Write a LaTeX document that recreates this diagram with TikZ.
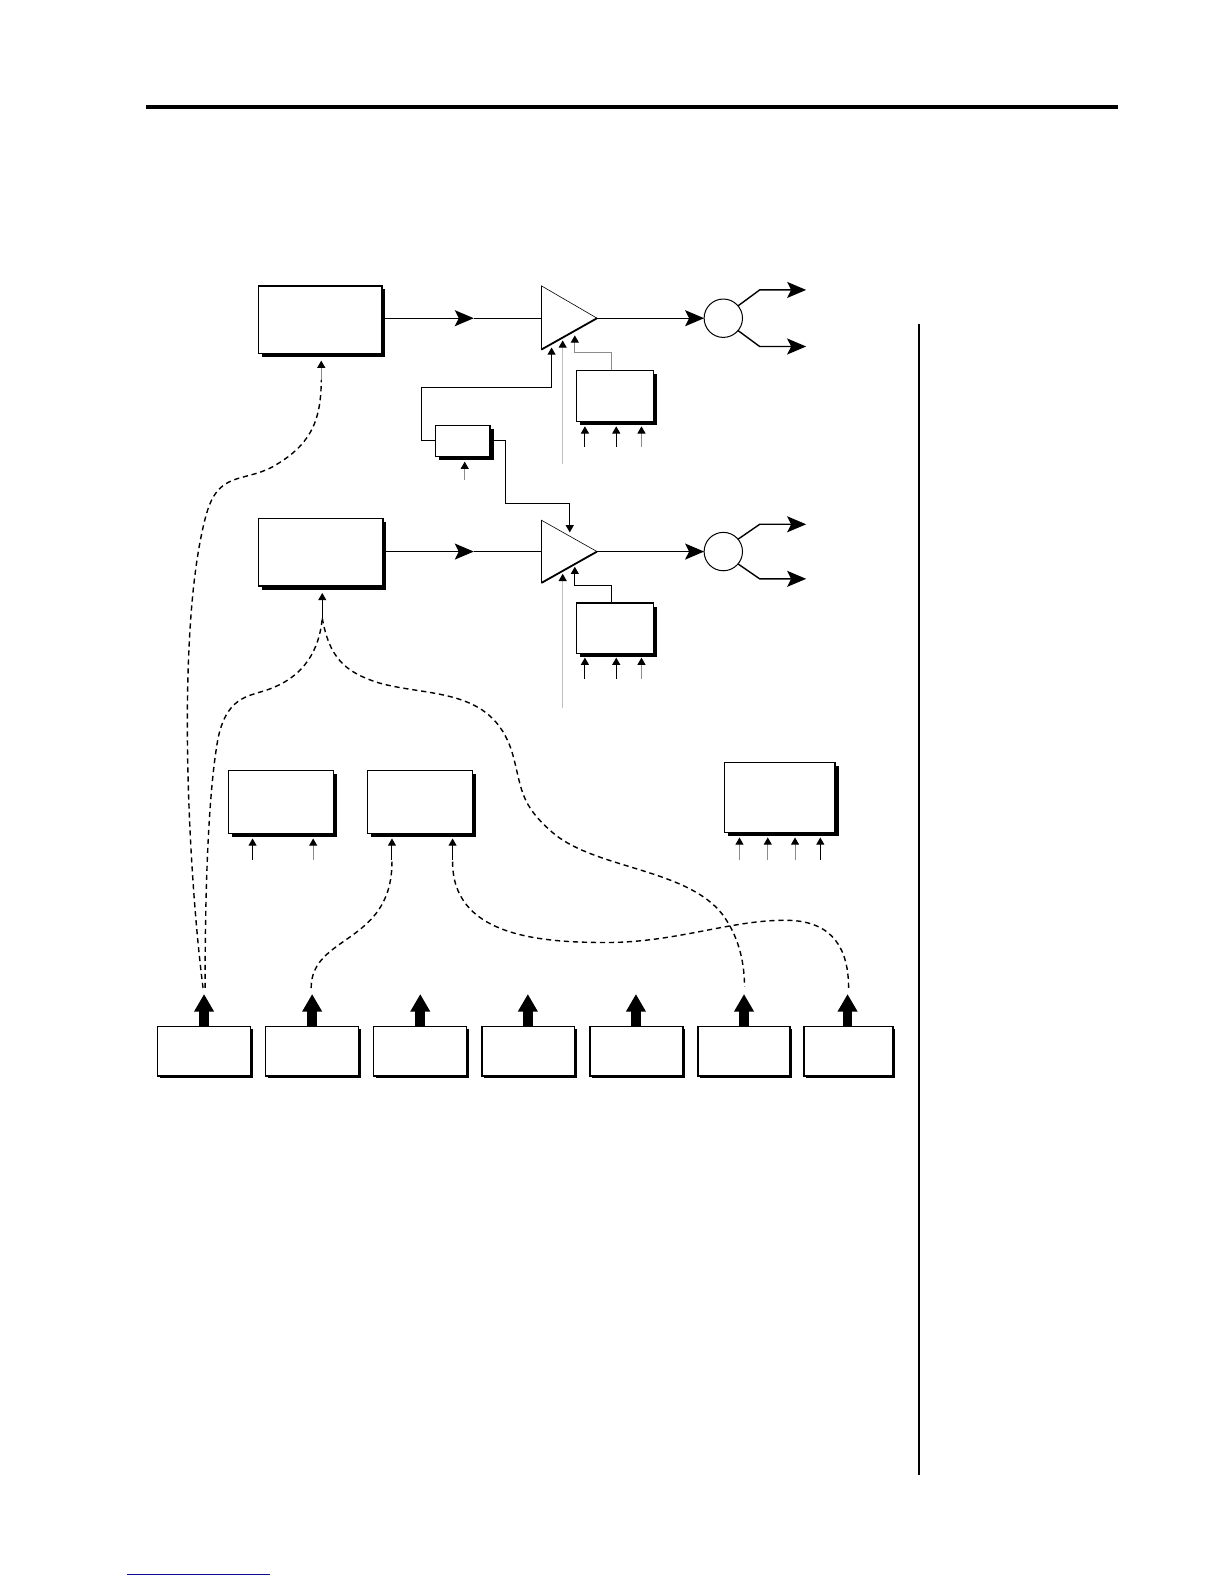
\documentclass[tikz,border=0pt]{standalone}
\usetikzlibrary{arrows.meta, calc, positioning, shadows}
\def\unitpx{0.50495pt}
\definecolor{linkblue}{rgb}{0.05,0.05,0.6}
\tikzset{
  blockbox/.style 2 args={draw, fill=white, line width=0.65pt, inner sep=0pt, outer sep=0pt,
    minimum width=#1*\unitpx, minimum height=#2*\unitpx,
    copy shadow={draw=none, fill=black, shadow xshift=1.8pt, shadow yshift=-1.8pt}},
  sourcebox/.style 2 args={draw, fill=white, line width=0.65pt, inner sep=0pt, outer sep=0pt,
    minimum width=#1*\unitpx, minimum height=#2*\unitpx,
    copy shadow={draw=none, fill=black, shadow xshift=1pt, shadow yshift=-1.2pt}},
  summer/.style={circle, draw, fill=white, line width=0.5pt, inner sep=0pt, outer sep=0pt, minimum size=38*\unitpx},
  bigtip/.style={-{Stealth[length=9.5pt,width=8pt,inset=2pt]}, line width=0.7pt},
  tinytip/.style={-{Triangle[length=3.6pt,width=4pt,color=black]}, line width=0.5pt},
  palewire/.style={tinytip, black!45},
  modcurve/.style={line width=0.7pt, dash pattern=on 2.6pt off 1.9pt},
  fatarrow/.style={-{Triangle[length=8.8pt,width=9.4pt]}, line width=4.8pt},
}
\begin{document}
\begin{tikzpicture}[x=\unitpx, y=-\unitpx]
\useasboundingbox (0,0) rectangle (1212,1568);
% page rules
\coordinate (ruleL) at (145,106);
\coordinate (ruleR) at (1107,106);
\coordinate (sideT) at (910,321);
\coordinate (sideB) at (910,1460);
\coordinate (linkL) at (126,1558.5);
\coordinate (linkR) at (267,1558.5);
\draw[line width=1.8pt] (ruleL) -- (ruleR);
\draw[line width=1pt] (sideT) -- (sideB);
\draw[linkblue, line width=0.55pt] (linkL) -- (linkR);
% upper voice
\node[blockbox={122}{67}] (srcA) at (317,316.5) {};
\coordinate (ampAt) at (536,283);
\coordinate (ampAb) at (536,346);
\coordinate (ampAr) at (591,315);
\coordinate (ampAl) at (536,315);
\draw[fill=white, line width=0.3pt] (ampAt) -- (ampAr) -- (ampAb) -- cycle;
\draw[line width=0.9pt] (ampAb) -- (ampAr);
\node[summer] (panA) at (716,315) {};
\coordinate (midA) at (469,315);
\coordinate (outA1) at (752,287);
\coordinate (outA2) at (752,343);
\coordinate (endA1) at (798,287);
\coordinate (endA2) at (798,343);
\draw[bigtip] (srcA.east |- midA) -- (midA);
\draw[line width=0.7pt] (midA) -- (ampAl);
\draw[bigtip] (ampAr) -- (panA.west);
\draw[bigtip] (panA.40) -- (outA1) -- (endA1);
\draw[bigtip] (panA.-40) -- (outA2) -- (endA2);
% lower voice
\node[blockbox={123}{67}] (srcB) at (317.5,546.5) {};
\coordinate (ampBt) at (536,515);
\coordinate (ampBb) at (536,577);
\coordinate (ampBr) at (591,546);
\coordinate (ampBl) at (536,546);
\draw[fill=white, line width=0.3pt] (ampBt) -- (ampBr) -- (ampBb) -- cycle;
\draw[line width=0.9pt] (ampBb) -- (ampBr);
\node[summer] (panB) at (716,546) {};
\coordinate (midB) at (469,546);
\coordinate (outB1) at (752,519);
\coordinate (outB2) at (752,573);
\coordinate (endB1) at (798,519);
\coordinate (endB2) at (798,573);
\draw[bigtip] (srcB.east |- midB) -- (midB);
\draw[line width=0.7pt] (midB) -- (ampBl);
\draw[bigtip] (ampBr) -- (panB.west);
\draw[bigtip] (panB.40) -- (outB1) -- (endB1);
\draw[bigtip] (panB.-40) -- (outB2) -- (endB2);
% envelopes and the small block between them
\node[blockbox={76}{50}] (envA) at (609,392) {};
\node[blockbox={76}{50}] (envB) at (609,622) {};
\node[blockbox={54}{31}] (xfade) at (458,436.5) {};
\foreach \x/\sty in {579/tinytip, 610/tinytip, 635/palewire} {
  \draw[\sty] (\x,442) -- (\x,422);
  \draw[\sty] (\x,672) -- (\x,651);
}
\draw[palewire] (460,475) -- (460,457);
\draw[tinytip] (xfade.west) -- (417,436.5) -- (417,384) -- (546,384) -- (546,344);
\draw[tinytip] (xfade.east) -- (500,436.5) -- (500,498) -- (564,498) -- (564,527);
\draw[palewire] (605,366) -- (605,349) -- (569,349) -- (569,332);
\draw[tinytip] (605,596) -- (605,580) -- (569,580) -- (569,561);
\draw[tinytip, black!25] (557,459) -- (557,337);
\draw[tinytip, black!25] (557,701) -- (557,568);
% modulator blocks
\node[blockbox={104}{62}] (modC) at (278,794) {};
\node[blockbox={104}{62}] (modD) at (416,794) {};
\node[blockbox={109}{69}] (modE) at (772,789.5) {};
\draw[tinytip] (250,851) -- (250,830);
\draw[palewire] (310,851) -- (310,830);
\draw[tinytip] (388,851) -- (388,830);
\draw[tinytip] (448,851) -- (448,830);
\foreach \x/\sty in {732/palewire, 760/palewire, 787/palewire, 812/tinytip}
  \draw[\sty] (\x,851) -- (\x,829);
% source row
\foreach \n/\cx/\bw/\ax in {1/202/92/202, 2/309/92/309, 3/416/92/416, 4/523/92/522.5,
                            5/630/92/629.5, 6/736.5/91/736.5, 7/840/88/839} {
  \node[sourcebox={\bw}{49}] (sourc\n) at (\cx,1040.5) {};
  \coordinate (up\n) at (\ax,984);
  \draw[fatarrow] (\ax,1016) -- (up\n);
}
% routing curves
\coordinate (stemA) at (318,376);
\coordinate (stemB) at (319,612);
\draw[palewire] (stemA) -- (318,357);
\draw[tinytip] (stemB) -- (319,587);
\draw[modcurve] (201,978) .. controls (186,860) and (174,620) .. (204,510)
  .. controls (216,466) and (240,478) .. (270,462) .. controls (305,442) and (318,420) .. (stemA);
\draw[modcurve] (203,978) .. controls (203,900) and (205,790) .. (216,730)
  .. controls (226,685) and (250,690) .. (272,680) .. controls (300,668) and (316,645) .. (stemB);
\draw[modcurve] (stemB) .. controls (326,650) and (340,665) .. (375,676)
  .. controls (425,690) and (487,680) .. (507,745) .. controls (517,780) and (513,795) .. (548,825)
  .. controls (590,860) and (680,860) .. (715,905) .. controls (730,925) and (737,950) .. (737,977);
\draw[modcurve] (308,978) .. controls (308,925) and (388,935) .. (388,853);
\draw[modcurve] (448,853) .. controls (448,925) and (530,933) .. (600,933)
  .. controls (670,933) and (725,910) .. (780,911) .. controls (825,912) and (840,940) .. (840,978);
\end{tikzpicture}
\end{document}
